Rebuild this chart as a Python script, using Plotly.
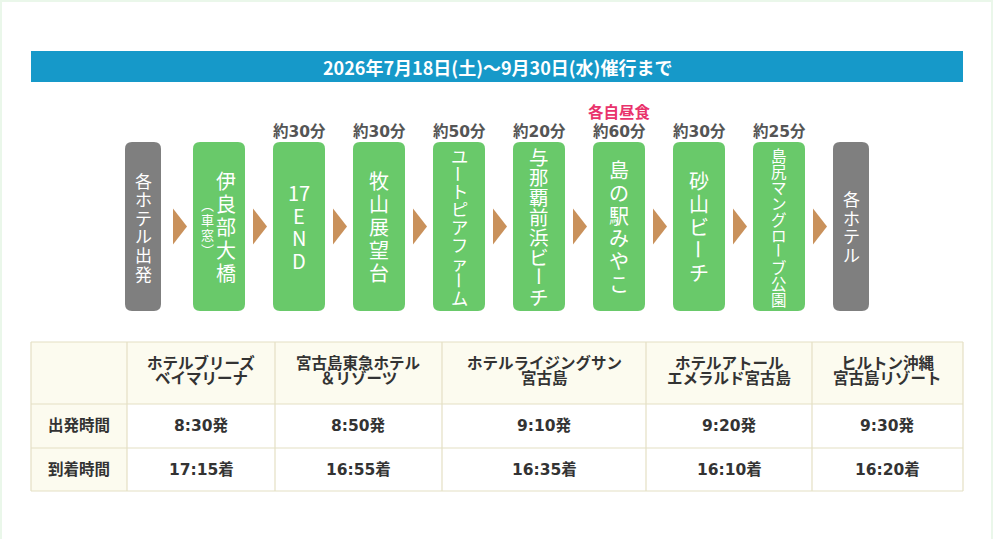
import plotly.graph_objects as go

# ---- data ----
period = "2026年7月18日(土)～9月30日(水)催行まで"

stops = ["各ホテル出発", "伊良部大橋", "17END", "牧山展望台", "ユートピアファーム",
         "与那覇前浜ビーチ", "島の駅みやこ", "砂山ビーチ", "島尻マングローブ公園", "各ホテル"]
stop_kinds = ["hotel", "spot", "spot", "spot", "spot", "spot", "spot", "spot", "spot", "hotel"]
stay_times = ["", "", "約30分", "約30分", "約50分", "約20分", "約60分", "約30分", "約25分", ""]
stop_notes = ["", "(車窓)", "", "", "", "", "", "", "", ""]
meal_notes = ["", "", "", "", "", "", "各自昼食", "", "", ""]

hotels = ["ホテルブリーズ\nベイマリーナ", "宮古島東急ホテル\n＆リゾーツ", "ホテルライジングサン\n宮古島",
          "ホテルアトール\nエメラルド宮古島", "ヒルトン沖縄\n宮古島リゾート"]
row_labels = ["出発時間", "到着時間"]
depart_times = ["8:30発", "8:50発", "9:10発", "9:20発", "9:30発"]
arrive_times = ["17:15着", "16:55着", "16:35着", "16:10着", "16:20着"]

# ---- look ----
W, H = 995, 539
BLUE = "#1699c9"
GREEN = "#69c96a"
GRAY = "#7f7f7f"
ARROW = "#c9915b"
PINK = "#e9336c"
CREAM = "#fcfbef"
RULE = "#e4dfc4"
INK = "#333333"
JP = "Noto Sans CJK JP"
MIX = "DejaVu Sans, Noto Sans CJK JP"

box_w = {"hotel": 36, "spot": 52}
gap_after = {"hotel": 32, "spot": 28}
max_pitch = {"hotel": 18.6, "spot": 22.8}
char_size = {"hotel": 17, "spot": 20}
box_top, box_bot = 142, 311
box_mid = (box_top + box_bot) / 2

shapes = []
annotations = []


def rounded(x0, y0, x1, y1, r):
    return (f"M{x0 + r},{y0} L{x1 - r},{y0} Q{x1},{y0} {x1},{y0 + r} "
            f"L{x1},{y1 - r} Q{x1},{y1} {x1 - r},{y1} L{x0 + r},{y1} "
            f"Q{x0},{y1} {x0},{y1 - r} L{x0},{y0 + r} Q{x0},{y0} {x0 + r},{y0} Z")


def tokens(s):
    # split for vertical writing, keep digit runs together (tate-chu-yoko)
    swap = {"(": "︵", ")": "︶"}
    out = []
    for ch in s:
        if ch.isdigit() and out and out[-1].isdigit():
            out[-1] += ch
        else:
            out.append(swap.get(ch, ch))
    return out


def text(x, y, s, size, color, family=JP, weight="normal", angle=0):
    annotations.append(dict(x=x, y=y, xref="x", yref="y", text=s, showarrow=False,
                            xanchor="center", yanchor="middle", borderpad=0, textangle=angle,
                            font=dict(size=size, color=color, family=family, weight=weight)))


def vertical(x, s, size, pitch, color):
    t = tokens(s)
    n = len(t)
    for i, ch in enumerate(t):
        # long vowel mark turns upright in vertical writing
        text(x, box_mid + (i - (n - 1) / 2) * pitch, ch, size, color,
             angle=90 if ch == "ー" else 0)


# page frame
shapes.append(dict(type="rect", xref="x", yref="y", x0=1, y0=1, x1=992, y1=545,
                   line=dict(color="#eaf7ea", width=2), fillcolor="rgba(0,0,0,0)", layer="below"))

# banner
shapes.append(dict(type="rect", xref="x", yref="y", x0=31, y0=51, x1=963, y1=82,
                   line=dict(width=0), fillcolor=BLUE))
text(497, 67, period, 18, "white", weight="bold")

# itinerary boxes
left = 125
lefts = []
for i, (name, kind) in enumerate(zip(stops, stop_kinds)):
    w = box_w[kind]
    lefts.append(left)
    cx = left + w / 2
    shapes.append(dict(type="path", xref="x", yref="y",
                       path=rounded(left, box_top, left + w, box_bot, 7),
                       fillcolor=GREEN if kind == "spot" else GRAY, line=dict(width=0)))
    n = len(tokens(name))
    pitch = min(max_pitch[kind], 160 / n)
    size = min(char_size[kind], pitch - 0.5)
    if stop_notes[i]:
        vertical(cx + 7, name, size, pitch, "white")
        vertical(cx - 12, stop_notes[i], 13, 15, "white")
    else:
        vertical(cx, name, size, pitch, "white")
    if stay_times[i]:
        text(cx, 132, stay_times[i], 15.5, "#555555", family=MIX, weight="bold")
    if meal_notes[i]:
        text(cx, 111, meal_notes[i], 15.5, PINK, weight="bold")
    left += w + gap_after[kind]

# arrows between boxes
for nxt in lefts[1:]:
    x1 = nxt - 6
    shapes.append(dict(type="path", xref="x", yref="y",
                       path=f"M{x1 - 14},{box_mid - 18} L{x1},{box_mid} L{x1 - 14},{box_mid + 18} Z",
                       fillcolor=ARROW, line=dict(width=0)))

# timetable
col_edges = [31, 127, 275, 442, 646, 812, 963]
row_edges = [342, 404, 448, 491]

shapes.append(dict(type="rect", xref="x", yref="y", x0=col_edges[0], y0=row_edges[0],
                   x1=col_edges[-1], y1=row_edges[1], fillcolor=CREAM, line=dict(width=0)))
shapes.append(dict(type="rect", xref="x", yref="y", x0=col_edges[0], y0=row_edges[1],
                   x1=col_edges[1], y1=row_edges[-1], fillcolor=CREAM, line=dict(width=0)))
for x in col_edges:
    shapes.append(dict(type="line", xref="x", yref="y", x0=x, y0=row_edges[0], x1=x, y1=row_edges[-1],
                       line=dict(color=RULE, width=1.2)))
for y in row_edges:
    shapes.append(dict(type="line", xref="x", yref="y", x0=col_edges[0], y0=y, x1=col_edges[-1], y1=y,
                       line=dict(color=RULE, width=1.2)))

centers = [(a + b) / 2 for a, b in zip(col_edges[:-1], col_edges[1:])]
head_mid = (row_edges[0] + row_edges[1]) / 2 - 2
for cx, name in zip(centers[1:], hotels):
    lines = name.split("\n")
    for j, ln in enumerate(lines):
        text(cx, head_mid + (j - (len(lines) - 1) / 2) * 15, ln, 15.5, INK, family=MIX, weight="bold")

for r, values in enumerate([depart_times, arrive_times]):
    cy = (row_edges[r + 1] + row_edges[r + 2]) / 2
    text(centers[0], cy, row_labels[r], 15.5, INK, family=MIX, weight="bold")
    for cx, v in zip(centers[1:], values):
        text(cx, cy, v, 15.5, INK, family=MIX, weight="bold")

fig = go.Figure(go.Scatter(x=[], y=[], hoverinfo="skip", showlegend=False))
fig.update_layout(
    width=W, height=H,
    margin=dict(l=0, r=0, t=0, b=0),
    paper_bgcolor="white", plot_bgcolor="white",
    xaxis=dict(range=[0, W], visible=False, fixedrange=True),
    yaxis=dict(range=[H, 0], visible=False, fixedrange=True),
    shapes=shapes, annotations=annotations,
    showlegend=False,
)
fig.write_html("out.html", config={"displayModeBar": False},
               post_script="document.body.style.margin='0';")
